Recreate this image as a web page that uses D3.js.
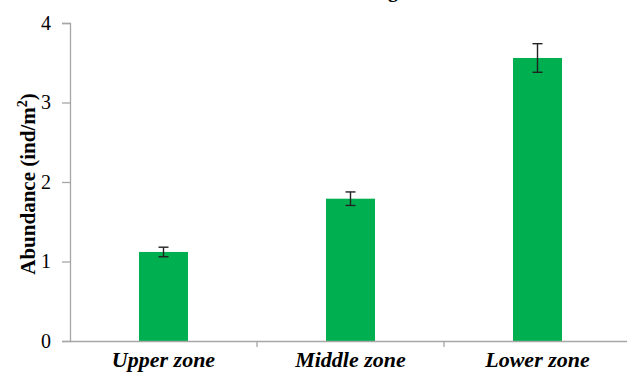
<!DOCTYPE html>
<html><head><meta charset="utf-8">
<script src="https://cdn.jsdelivr.net/npm/d3@7"></script>
<style>body{margin:0;background:#fff}svg{display:block}</style>
</head><body>
<svg id="c" width="627" height="373"></svg>
<script>
const categories = ["Upper zone", "Middle zone", "Lower zone"];
const values = [1.12, 1.79, 3.56];
const errors = [0.06, 0.085, 0.18];
const yTicks = [0, 1, 2, 3, 4];
const titleText = "Abundance along";

const svg = d3.select("#c");
const x = d3.scaleBand().domain(categories).range([70, 631]).paddingInner(0).paddingOuter(0);
const y = d3.scaleLinear().domain([0, 4]).range([341, 23]);
const barW = 49;
const grey = "#a6a6a6";
const font = "'Liberation Serif', 'Times New Roman', serif";

// title (cut off at top in the reference)
svg.append("text").attr("x", 398).attr("y", -3).attr("text-anchor", "end")
  .attr("font-family", font).attr("font-weight", "bold").attr("font-size", 20).text(titleText);

// y axis
const ya = svg.append("g").attr("transform", "translate(70,0)")
  .call(d3.axisLeft(y).tickValues(yTicks).tickSize(8).tickPadding(11).tickFormat(d3.format("d")));
ya.select(".domain").attr("stroke", grey).attr("stroke-width", 1.3);
ya.selectAll(".tick line").attr("stroke", grey).attr("stroke-width", 1.3);
ya.selectAll(".tick text").attr("font-family", font).attr("font-size", 20).attr("fill", "#000");

// bars
svg.selectAll("rect.bar").data(categories).join("rect").attr("class", "bar")
  .attr("x", d => x(d) + x.bandwidth() / 2 - barW / 2)
  .attr("width", barW)
  .attr("y", (d, i) => y(values[i]))
  .attr("height", (d, i) => y(0) - y(values[i]))
  .attr("fill", "#00b050");

// x axis
const xa = svg.append("g").attr("transform", "translate(0,341)")
  .call(d3.axisBottom(x).tickSize(0).tickSizeOuter(0).tickFormat(""));
xa.select(".domain").attr("stroke", grey).attr("stroke-width", 1.3);
xa.selectAll(".tick").remove();
svg.selectAll("line.sep").data(categories.slice(1)).join("line").attr("class", "sep")
  .attr("x1", d => x(d)).attr("x2", d => x(d)).attr("y1", 341).attr("y2", 347)
  .attr("stroke", grey).attr("stroke-width", 1.3);
svg.selectAll("text.xl").data(categories).join("text").attr("class", "xl")
  .attr("x", d => x(d) + x.bandwidth() / 2).attr("y", 367)
  .attr("text-anchor", "middle").attr("font-family", font).attr("font-weight", "bold")
  .attr("font-style", "italic").attr("font-size", 22).text(d => d);

// error bars
const eb = svg.selectAll("g.eb").data(categories).join("g").attr("class", "eb")
  .attr("stroke", "#222").attr("stroke-width", 1.4);
eb.append("line").attr("x1", d => x(d) + x.bandwidth() / 2).attr("x2", d => x(d) + x.bandwidth() / 2)
  .attr("y1", (d, i) => y(values[i] + errors[i])).attr("y2", (d, i) => y(values[i] - errors[i]));
[1, -1].forEach(s => {
  eb.append("line").attr("x1", d => x(d) + x.bandwidth() / 2 - 5).attr("x2", d => x(d) + x.bandwidth() / 2 + 5)
    .attr("y1", (d, i) => y(values[i] + s * errors[i])).attr("y2", (d, i) => y(values[i] + s * errors[i]));
});

// y axis title
const yt = svg.append("text").attr("transform", "translate(35,184) rotate(-90)")
  .attr("text-anchor", "middle").attr("font-family", font).attr("font-weight", "bold").attr("font-size", 21);
yt.append("tspan").text("Abundance (ind/m");
yt.append("tspan").attr("font-size", 14).attr("dy", -8).text("2");
yt.append("tspan").attr("dy", 8).text(")");
</script>
</body></html>
